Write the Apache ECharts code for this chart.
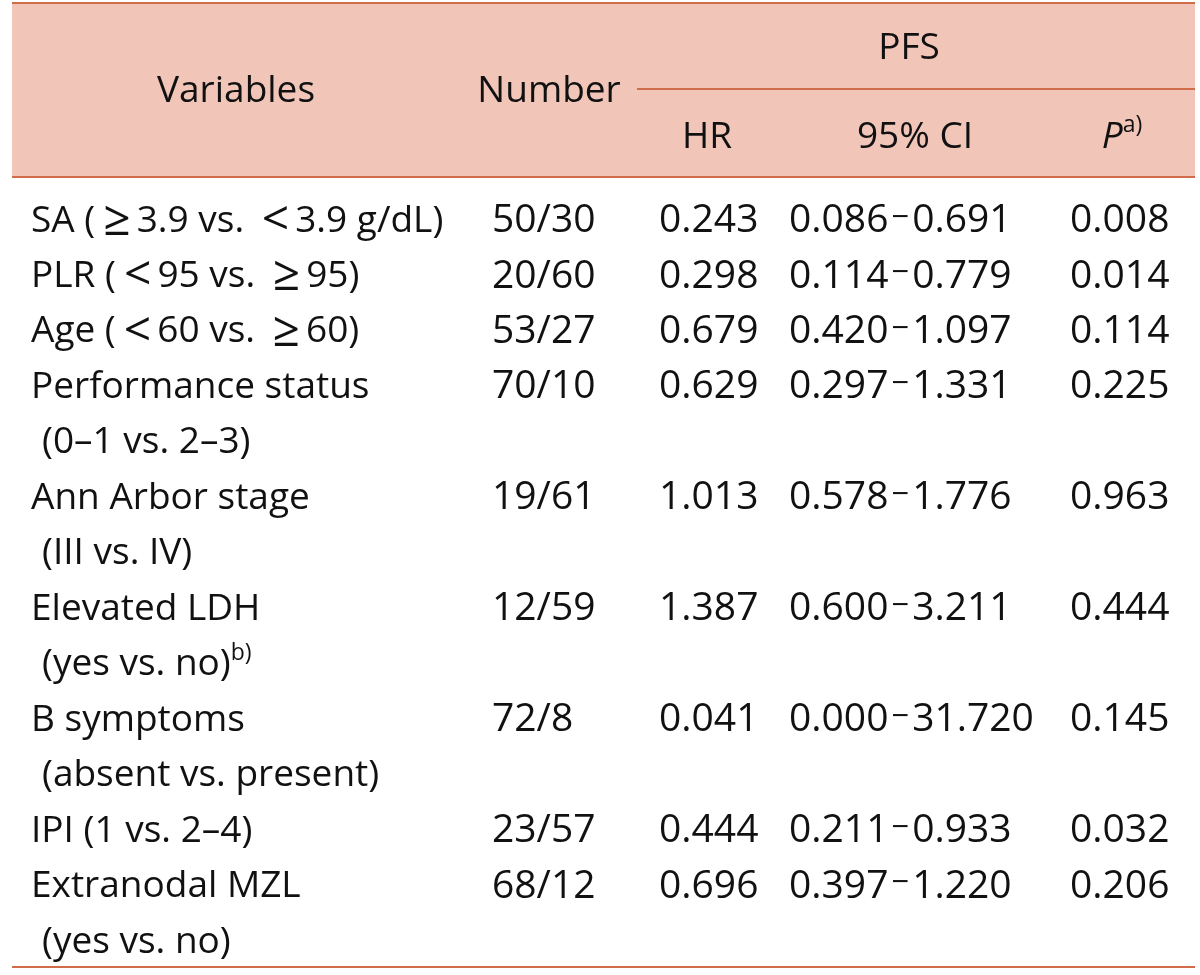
<!DOCTYPE html>
<html><head><meta charset="utf-8">
<script src="https://cdn.jsdelivr.net/npm/echarts@6/dist/echarts.min.js"></script>
<style>html,body{margin:0;padding:0;background:#fff}#c{width:1200px;height:975px}</style>
</head><body><div id="c"></div>
<script>
// ---- data ----
const variableLines = [
  ['SA (≥3.9 vs. <3.9 g/dL)'],
  ['PLR (<95 vs. ≥95)'],
  ['Age (<60 vs. ≥60)'],
  ['Performance status', '(0–1 vs. 2–3)'],
  ['Ann Arbor stage', '(III vs. IV)'],
  ['Elevated LDH', '(yes vs. no)^b)'],
  ['B symptoms', '(absent vs. present)'],
  ['IPI (1 vs. 2–4)'],
  ['Extranodal MZL', '(yes vs. no)']
];
const numbers = ['50/30', '20/60', '53/27', '70/10', '19/61', '12/59', '72/8', '23/57', '68/12'];
const hrValues = [0.243, 0.298, 0.679, 0.629, 1.013, 1.387, 0.041, 0.444, 0.696];
const ciLow = [0.086, 0.114, 0.420, 0.297, 0.578, 0.600, 0.000, 0.211, 0.397];
const ciHigh = [0.691, 0.779, 1.097, 1.331, 1.776, 3.211, 31.720, 0.933, 1.220];
const pValues = [0.008, 0.014, 0.114, 0.225, 0.963, 0.444, 0.145, 0.032, 0.206];
const headerMain = ['Variables', 'Number', 'PFS'];
const headerSub = ['HR', '95% CI', 'P^a)'];

// ---- layout / style ----
const FONT = '"Open Sans", Lato, sans-serif';
const FS = 37;      // text
const FSN = 39;     // numeric columns
const SUP = 23;
const INK = '#111111';
const RULE = '#cf6c4a';
const BAND = '#f1c6b9';
const COL = { variables: 31, number: 492, hr: 659, ci: 789, p: 1070 };
const HEAD = { left: 12, right: 1195, top: 3, bottom: 177, pfsRuleY: 89, pfsRuleLeft: 637, tableBottom: 967,
  variablesX: 236, numberX: 549, mainY: 91, pfsX: 909, pfsY: 48, subY: 137, hrX: 707, ciX: 915, pX: 1122 };
const BODY_FIRST = 221, LINE_H = 55.46, INDENT = 11;

const slotStart = [];
(function () { let s = 0; variableLines.forEach(v => { slotStart.push(s); s += v.length; }); })();

const rich = {
  n: { fontFamily: FONT, fontSize: FS, fill: INK, lineHeight: 46 },
  d: { fontFamily: FONT, fontSize: FSN, fill: INK, lineHeight: 46 },
  i: { fontFamily: FONT, fontSize: FS, fill: INK, fontStyle: 'italic', lineHeight: 46 },
  m: { fontFamily: FONT, fontSize: 48, fill: INK, lineHeight: 46, padding: [0, 6, 0, 8] },
  h: { fontFamily: FONT, fontSize: 31, fill: INK, lineHeight: 46, padding: [0, 3, 6, 3] },
  s: { fontFamily: FONT, fontSize: SUP, fill: INK, lineHeight: 46, verticalAlign: 'top', padding: [0, 0, 18, 0] }
};
function richText(t, base, italicFirst) {
  const parts = t.split('^');
  let body = parts[0];
  let out = '';
  if (italicFirst) {
    out = '{i|' + body + '}';
  } else {
    // wide math symbols and range dashes get their own token
    let buf = '';
    for (const ch of body) {
      if (ch === '≥' || ch === '<') {
        if (buf) out += '{' + base + '|' + buf + '}';
        out += '{m|' + ch + '}'; buf = '';
      } else if (ch === '−') {
        if (buf) out += '{' + base + '|' + buf + '}';
        out += '{h|' + ch + '}'; buf = '';
      } else buf += ch;
    }
    if (buf) out += '{' + base + '|' + buf + '}';
  }
  if (parts[1]) out += '{s|' + parts[1] + '}';
  return out;
}
function textEl(p, t, align, base, italicFirst) {
  return { type: 'text', x: p[0], y: p[1],
    style: { text: richText(t, base || 'n', italicFirst), rich: rich, align: align, verticalAlign: 'middle',
      fontFamily: FONT, fontSize: FS, fill: INK } };
}

function renderHeader(params, api) {
  const tl = api.coord([HEAD.left, HEAD.top]);
  const br = api.coord([HEAD.right, HEAD.bottom]);
  const pl = api.coord([HEAD.pfsRuleLeft, HEAD.pfsRuleY]);
  const pr = api.coord([HEAD.right, HEAD.pfsRuleY]);
  const bl = api.coord([HEAD.left, HEAD.tableBottom]);
  const bR = api.coord([HEAD.right, HEAD.tableBottom]);
  const lineStyle = { stroke: RULE, lineWidth: 2 };
  return { type: 'group', children: [
    { type: 'rect', shape: { x: tl[0], y: tl[1], width: br[0] - tl[0], height: br[1] - tl[1] }, style: { fill: BAND } },
    { type: 'line', shape: { x1: tl[0], y1: tl[1], x2: br[0], y2: tl[1] }, style: lineStyle },
    { type: 'line', shape: { x1: tl[0], y1: br[1], x2: br[0], y2: br[1] }, style: lineStyle },
    { type: 'line', shape: { x1: pl[0], y1: pl[1], x2: pr[0], y2: pr[1] }, style: lineStyle },
    { type: 'line', shape: { x1: bl[0], y1: bl[1], x2: bR[0], y2: bR[1] }, style: lineStyle },
    textEl(api.coord([HEAD.variablesX, HEAD.mainY]), headerMain[0], 'center'),
    textEl(api.coord([HEAD.numberX, HEAD.mainY]), headerMain[1], 'center'),
    textEl(api.coord([HEAD.pfsX, HEAD.pfsY]), headerMain[2], 'center'),
    textEl(api.coord([HEAD.hrX, HEAD.subY]), headerSub[0], 'center'),
    textEl(api.coord([HEAD.ciX, HEAD.subY]), headerSub[1], 'center'),
    textEl(api.coord([HEAD.pX, HEAD.subY]), headerSub[2], 'center', 'n', true)
  ] };
}

function renderRow(params, api) {
  const i = api.value(0);
  const y0 = BODY_FIRST + slotStart[i] * LINE_H;
  const children = [];
  variableLines[i].forEach((t, k) => {
    children.push(textEl(api.coord([COL.variables + (k ? INDENT : 0), y0 + k * LINE_H]), t, 'left'));
  });
  children.push(textEl(api.coord([COL.number, y0]), numbers[i], 'left', 'd'));
  children.push(textEl(api.coord([COL.hr, y0]), hrValues[i].toFixed(3), 'left', 'd'));
  children.push(textEl(api.coord([COL.ci, y0]), ciLow[i].toFixed(3) + '−' + ciHigh[i].toFixed(3), 'left', 'd'));
  children.push(textEl(api.coord([COL.p, y0]), pValues[i].toFixed(3), 'left', 'd'));
  return { type: 'group', children: children };
}

const chart = echarts.init(document.getElementById('c'), null, { renderer: 'canvas' });
chart.setOption({
  animation: false,
  backgroundColor: '#ffffff',
  grid: { left: 0, right: 0, top: 0, bottom: 0 },
  xAxis: { type: 'value', min: 0, max: 1200, show: false },
  yAxis: { type: 'value', min: 0, max: 975, inverse: true, show: false },
  series: [
    { type: 'custom', name: 'header', renderItem: renderHeader, data: [[0]], silent: true, z: 1 },
    { type: 'custom', name: 'rows', renderItem: renderRow, data: variableLines.map((_, i) => [i]), silent: true, z: 2 }
  ]
});
</script></body></html>
